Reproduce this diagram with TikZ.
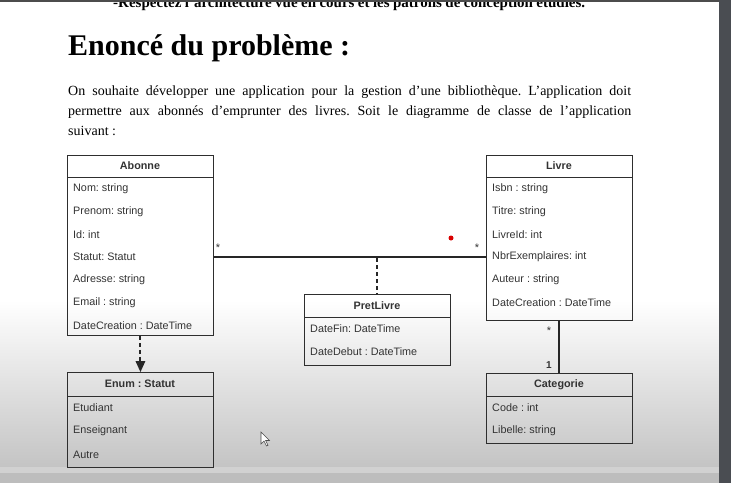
\documentclass[tikz,border=0pt]{standalone}
\usepackage{fontspec}
\setmainfont{Liberation Serif}
\setsansfont{Liberation Sans}
\usetikzlibrary{arrows.meta,calc}
\definecolor{umlline}{HTML}{2E2E2E}
\definecolor{umltext}{HTML}{333333}
\definecolor{barcol}{HTML}{4A4D52}
\definecolor{pagebot}{HTML}{C4C4C4}
\tikzset{
  x=1pt,y=-1pt,
  classbox/.style={draw=umlline,line width=0.9pt,rectangle,inner sep=0pt,anchor=north west},
  hdr/.style={font=\sffamily\bfseries\fontsize{10.8}{12}\selectfont,text=umltext,anchor=center},
  attr/.style={font=\sffamily\fontsize{10.8}{12}\selectfont,text=umltext,anchor=west,inner sep=0pt},
  mult/.style={font=\sffamily\fontsize{11}{12}\selectfont,text=umltext,inner sep=0pt},
  assoc/.style={draw=black!85,line width=2pt},
  dashlink/.style={draw=black!85,line width=2pt,dash pattern=on 4pt off 3pt},
  para/.style={font=\fontsize{14}{16}\selectfont,anchor=base west,inner sep=0pt},
}
\frenchspacing
\begin{document}
\begin{tikzpicture}
\frenchspacing
\useasboundingbox (0,0) rectangle (731,483);
% page background
\fill[white] (0,0) rectangle (719,300);
\shade[top color=white,bottom color=pagebot] (0,300) rectangle (719,467);
\fill[black!18] (0,467) rectangle (719,473);
\fill[black!26] (0,473) rectangle (719,483);
\fill[barcol] (719,0) rectangle (731,483);
% top cut text
\begin{scope}
\clip (0,2) rectangle (719,20);
\node[font=\bfseries\fontsize{15}{16}\selectfont,anchor=base west,inner sep=0pt] (toptext) at (113,7) {\makebox[472pt][s]{-Respectez l'architecture vue en cours et les patrons de conception étudiés.}};
\end{scope}
\fill[black!70] (0,0) rectangle (719,2);
% heading
\node[font=\bfseries\fontsize{30}{34}\selectfont,anchor=base west,inner sep=0pt] (title) at (68,55) {Enoncé du problème :};
% paragraph
\node[para] (p1) at (68,95) {\makebox[563pt][s]{On souhaite développer une application pour la gestion d’une bibliothèque. L’application doit}};
\node[para] (p2) at (68,115) {\makebox[563pt][s]{permettre aux abonnés d'emprunter des livres. Soit le diagramme de classe de l’application}};
\node[para] (p3) at (68,135) {suivant :};

% ---------- Abonne
\node[classbox,minimum width=146pt,minimum height=180pt] (abonne) at (67,155) {};
\draw[umlline,line width=0.9pt] (abonne.north west) ++(0,22) coordinate (abh) -- (abh -| abonne.east);
\node[hdr] (abonneT) at (140,166) {Abonne};
\foreach \t [count=\i] in {Nom: string,Prenom: string,Id: int,Statut: Statut,Adresse: string,Email : string,DateCreation : DateTime}
  \node[attr] (ab\i) at (73,{165.5+22.9*\i}) {\t};

% ---------- Livre
\node[classbox,minimum width=146pt,minimum height=165pt] (livre) at (486,155) {};
\draw[umlline,line width=0.9pt] (livre.north west) ++(0,22) coordinate (lvh) -- (lvh -| livre.east);
\node[hdr] (livreT) at (559,166) {Livre};
\foreach \t [count=\i] in {Isbn : string,Titre: string,LivreId: int,NbrExemplaires: int,Auteur : string,DateCreation : DateTime}
  \node[attr] (lv\i) at (492,{165.5+22.9*\i}) {\t};

% ---------- PretLivre
\node[classbox,minimum width=146pt,minimum height=71pt] (pret) at (304,294) {};
\draw[umlline,line width=0.9pt] (pret.north west) ++(0,23) coordinate (prh) -- (prh -| pret.east);
\node[hdr] (pretT) at (377,305.5) {PretLivre};
\node[attr] (pr1) at (310,328.5) {DateFin: DateTime};
\node[attr] (pr2) at (310,351.5) {DateDebut : DateTime};

% ---------- Enum : Statut
\node[classbox,minimum width=146pt,minimum height=95pt] (enum) at (67,372) {};
\draw[umlline,line width=0.9pt] (enum.north west) ++(0,24) coordinate (enh) -- (enh -| enum.east);
\node[hdr] (enumT) at (140,384) {Enum : Statut};
\node[attr] (en1) at (73,407.5) {Etudiant};
\node[attr] (en2) at (73,430.5) {Enseignant};
\node[attr] (en3) at (73,455) {Autre};

% ---------- Categorie
\node[classbox,minimum width=146pt,minimum height=70pt] (cat) at (486,373) {};
\draw[umlline,line width=0.9pt] (cat.north west) ++(0,23) coordinate (cth) -- (cth -| cat.east);
\node[hdr] (catT) at (559,384.5) {Categorie};
\node[attr] (ct1) at (492,407.5) {Code : int};
\node[attr] (ct2) at (492,430.5) {Libelle: string};

% ---------- connectors
\coordinate (asA) at (abonne.north east |- 0,257);
\coordinate (asL) at (livre.north west |- 0,257);
\draw[assoc] (asA) -- (asL);
\coordinate (asMid) at (pret.north |- 0,258);
\draw[dashlink] (asMid) -- (pret.north);
\node[mult] (m1) at (218,248) {*};
\node[mult] (m2) at (477,248) {*};

\coordinate (enTip) at ($(enum.north)+(0,-9)$);
\draw[dashlink] (abonne.south) -- (enTip);
\fill[black!85] (enum.north) -- ++(-5,-11) -- ++(10,0) -- cycle;

\draw[assoc] (livre.south) -- (cat.north);
\node[mult] (m3) at (549,331) {*};
\node[mult,font=\sffamily\bfseries\fontsize{10}{10}\selectfont] (m4) at (549,365) {1};

% red dot
\fill[red!85!black] (451,238) circle (2.5);

% mouse cursor
\draw[black!70,fill=white,line width=0.6pt] (261,432) -- (261,444) -- (264,441) -- (266.5,446) -- (268,445.3) -- (265.6,440.5) -- (269.5,440.5) -- cycle;
\end{tikzpicture}
\end{document}
